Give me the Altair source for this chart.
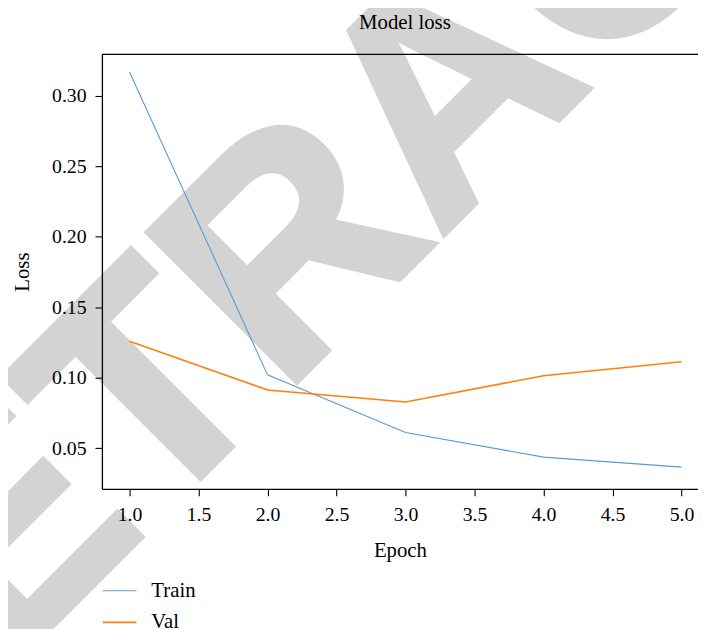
import altair as alt
import pandas as pd

# ---- data ----
epochs = [1, 2, 3, 4, 5]
train_loss = [0.3169, 0.1021, 0.0613, 0.0438, 0.0367]
val_loss = [0.1260, 0.0914, 0.0829, 0.1015, 0.1114]
series_names = ["Train", "Val"]
series_colors = ["#5b9bd5", "#ff7f0e"]
x_ticks = [1.0, 1.5, 2.0, 2.5, 3.0, 3.5, 4.0, 4.5, 5.0]
y_ticks = [0.05, 0.10, 0.15, 0.20, 0.25, 0.30]
watermark = ["RETRACTED"]
chart_title = ["Model loss"]

rows = []
for e, t in zip(epochs, train_loss):
    rows.append({"Epoch": e, "Loss": t, "Series": "Train"})
for e, v in zip(epochs, val_loss):
    rows.append({"Epoch": e, "Loss": v, "Series": "Val"})
df = pd.DataFrame(rows)

W = 603
H = 439.4
SERIF = "Liberation Serif"

wm = alt.Chart(pd.DataFrame({"t": watermark})).mark_text(
    font="Liberation Sans", fontWeight="bold", fontSize=310, angle=315,
    align="center", baseline="alphabetic", color="#d3d3d3",
    stroke="#d3d3d3", strokeWidth=6, strokeJoin="miter"
).encode(text="t:N", x=alt.value(420), y=alt.value(108))

lines = alt.Chart(df).mark_line().encode(
    x=alt.X("Epoch:Q", title="Epoch",
            scale=alt.Scale(domain=[0.8, 5.1195], nice=False, zero=False),
            axis=alt.Axis(values=x_ticks, format=".1f", labelPadding=9, titlePadding=15,
                          zindex=2)),
    y=alt.Y("Loss:Q", title="Loss",
            scale=alt.Scale(domain=[0.0213, 0.3293], nice=False, zero=False),
            axis=alt.Axis(values=y_ticks, format=".2f", labelPadding=9, titlePadding=19.5,
                          zindex=2)),
    color=alt.Color("Series:N", scale=alt.Scale(domain=series_names, range=series_colors),
                    legend=alt.Legend(title=None, orient="none", legendX=0, legendY=524.5,
                                      direction="vertical", zindex=2)),
    strokeWidth=alt.StrokeWidth("Series:N", scale=alt.Scale(domain=series_names, range=[1.1, 1.6]),
                                legend=None),
)

top_rule = alt.Chart(pd.DataFrame({"t": watermark})).mark_rule(color="black", strokeWidth=1.3).encode(
    x=alt.value(0), x2=alt.value(W), y=alt.value(0)
)

title_mark = alt.Chart(pd.DataFrame({"t": chart_title})).mark_text(
    font=SERIF, fontSize=21, color="black", align="center", baseline="alphabetic"
).encode(text="t:N", x=alt.value(306.5), y=alt.value(-25.5))

chart = alt.layer(wm, lines, top_rule, title_mark).properties(
    width=W, height=H,
    autosize=alt.AutoSizeParams(type="none"),
    padding={"left": 95, "top": 43.4, "right": 0, "bottom": 138},
).configure_view(stroke=None).configure_axis(
    grid=False, domainColor="black", domainWidth=1.3, tickColor="black", tickWidth=1.1,
    tickSize=7, labelFont=SERIF, labelFontSize=20, labelColor="black",
    titleFont=SERIF, titleFontSize=21, titleFontWeight="normal", titleColor="black",
).configure_legend(
    labelFont=SERIF, labelFontSize=21, labelColor="black", symbolType="stroke",
    symbolSize=1156, symbolStrokeWidth=1.5, labelOffset=14, rowPadding=4, padding=0,
)

chart.save("out.html", embed_options={"renderer": "svg", "actions": False})
